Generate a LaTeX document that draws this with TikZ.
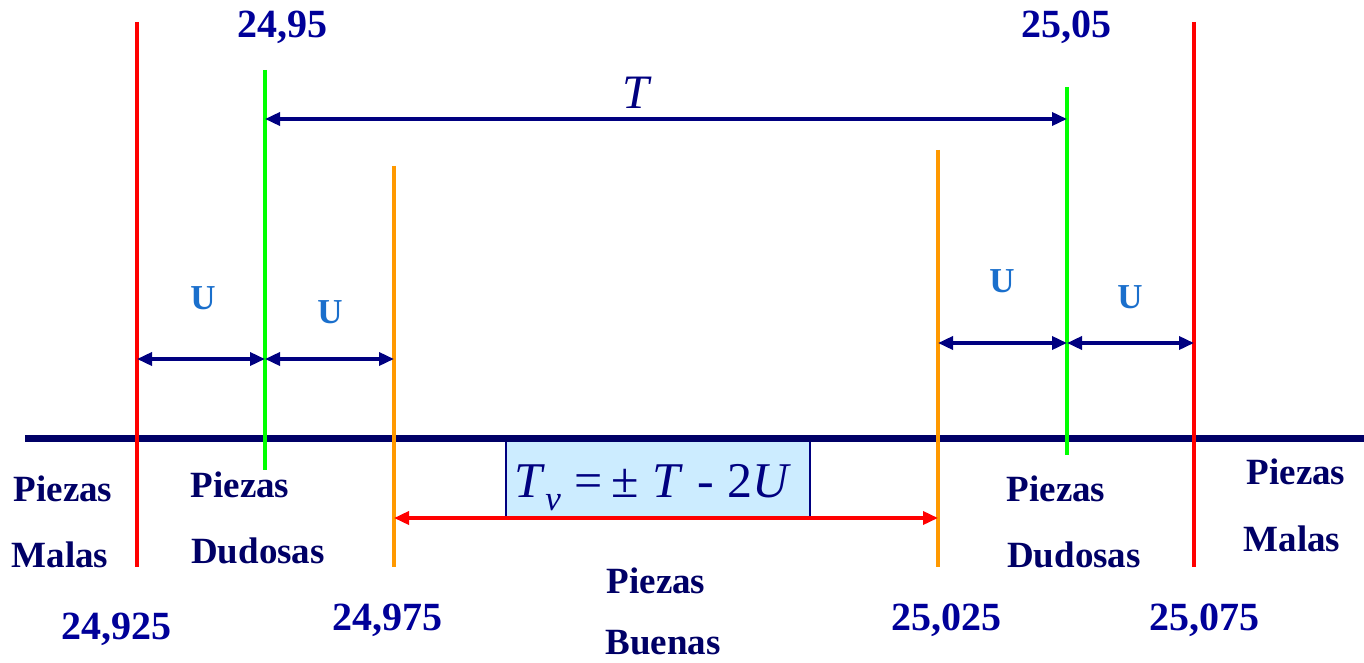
\documentclass[tikz,border=0pt]{standalone}
\usepackage{fontspec}
\setmainfont{Liberation Serif}
\usetikzlibrary{arrows.meta}
\definecolor{navy}{HTML}{000066}
\definecolor{numblue}{HTML}{000099}
\definecolor{arrnavy}{HTML}{000080}
\definecolor{ublue}{HTML}{1A6FCC}
\definecolor{lorange}{HTML}{FF9900}
\definecolor{lgreen}{HTML}{00FF00}
\definecolor{boxfill}{HTML}{CCECFF}
\tikzset{
  vline/.style={line width=4pt},
  dim/.style={line width=3.5pt, arrnavy, {Triangle[length=15pt,width=13pt]}-{Triangle[length=15pt,width=13pt]}, shorten <=0pt, shorten >=0pt},
  numlab/.style={font=\fontsize{40}{40}\selectfont\bfseries, text=numblue, inner sep=0pt},
  piezlab/.style={font=\fontsize{37}{37}\selectfont\bfseries, text=navy, inner sep=0pt},
  ulab/.style={font=\fontsize{35}{35}\selectfont\bfseries, text=ublue, inner sep=0pt},
}
\begin{document}
\begin{tikzpicture}[x=1pt,y=-1pt]
\useasboundingbox (0,0) rectangle (1364,663);
% formula box
\node[draw=arrnavy, line width=1.5pt, fill=boxfill, minimum width=304pt, minimum height=77pt, inner sep=0pt] (box) at (658,479.5) {};
\node[inner sep=0pt, text=arrnavy, font=\fontsize{50}{50}\selectfont] (form) at (653,488) {\textit{T}\raisebox{-13pt}{\fontsize{35}{35}\selectfont\textit{v}}\;=\,±\;\textit{T}\;-\;2\textit{U}};
% baseline
\coordinate (bl) at (25,438);
\coordinate (br) at (1364,438);
\draw[navy, line width=7pt] (bl) -- (br);
% vertical lines
\coordinate (r1t) at (137,22); \coordinate (r1b) at (137,567);
\coordinate (r2t) at (1194,22); \coordinate (r2b) at (1194,567);
\coordinate (g1t) at (265,70); \coordinate (g1b) at (265,470);
\coordinate (g2t) at (1067,87); \coordinate (g2b) at (1067,455);
\coordinate (o1t) at (394,166); \coordinate (o1b) at (394,567);
\coordinate (o2t) at (938,150); \coordinate (o2b) at (938,567);
\draw[vline, red] (r1t) -- (r1b);
\draw[vline, red] (r2t) -- (r2b);
\draw[vline, lgreen] (g1t) -- (g1b);
\draw[vline, lgreen] (g2t) -- (g2b);
\draw[vline, lorange] (o1t) -- (o1b);
\draw[vline, lorange] (o2t) -- (o2b);
% dimension arrows
\coordinate (ta) at (265,119); \coordinate (tb) at (1067,119);
\draw[dim] (ta) -- (tb);
\node[inner sep=0pt, text=arrnavy, font=\fontsize{48}{48}\selectfont\itshape] (T) at (636,93) {T};
\coordinate (u1a) at (137,359); \coordinate (u1b) at (265,359); \coordinate (u1c) at (394,359);
\draw[dim] (u1a) -- (u1b);
\draw[dim] (u1b) -- (u1c);
\coordinate (u2a) at (938,343); \coordinate (u2b) at (1067,343); \coordinate (u2c) at (1194,343);
\draw[dim] (u2a) -- (u2b);
\draw[dim] (u2b) -- (u2c);
\node[ulab] (U1) at (203,298) {U};
\node[ulab] (U2) at (330,312) {U};
\node[ulab] (U3) at (1002,281) {U};
\node[ulab] (U4) at (1130,297) {U};
\coordinate (ra) at (394,518); \coordinate (rb) at (938,518);
\draw[dim, red, line width=3.5pt] (ra) -- (rb);
% numbers
\node[numlab] (n1) at (282,27) {24,95};
\node[numlab] (n2) at (1066,27) {25,05};
\node[numlab] (n3) at (116,629) {24,925};
\node[numlab] (n4) at (387,620) {24,975};
\node[numlab] (n5) at (946,620) {25,025};
\node[numlab] (n6) at (1204,620) {25,075};
% labels
\node[piezlab] (p1) at (63,489) {Piezas};
\node[piezlab] (m1) at (60,555) {Malas};
\node[piezlab] (p2) at (240,485) {Piezas};
\node[piezlab] (d2) at (258,551) {Dudosas};
\node[piezlab] (p3) at (1056,489) {Piezas};
\node[piezlab] (d3) at (1074,555) {Dudosas};
\node[piezlab] (p4) at (1296,472) {Piezas};
\node[piezlab] (m4) at (1292,539) {Malas};
\node[piezlab] (p5) at (656,581) {Piezas};
\node[piezlab] (b5) at (663,643) {Buenas};
\end{tikzpicture}
\end{document}
